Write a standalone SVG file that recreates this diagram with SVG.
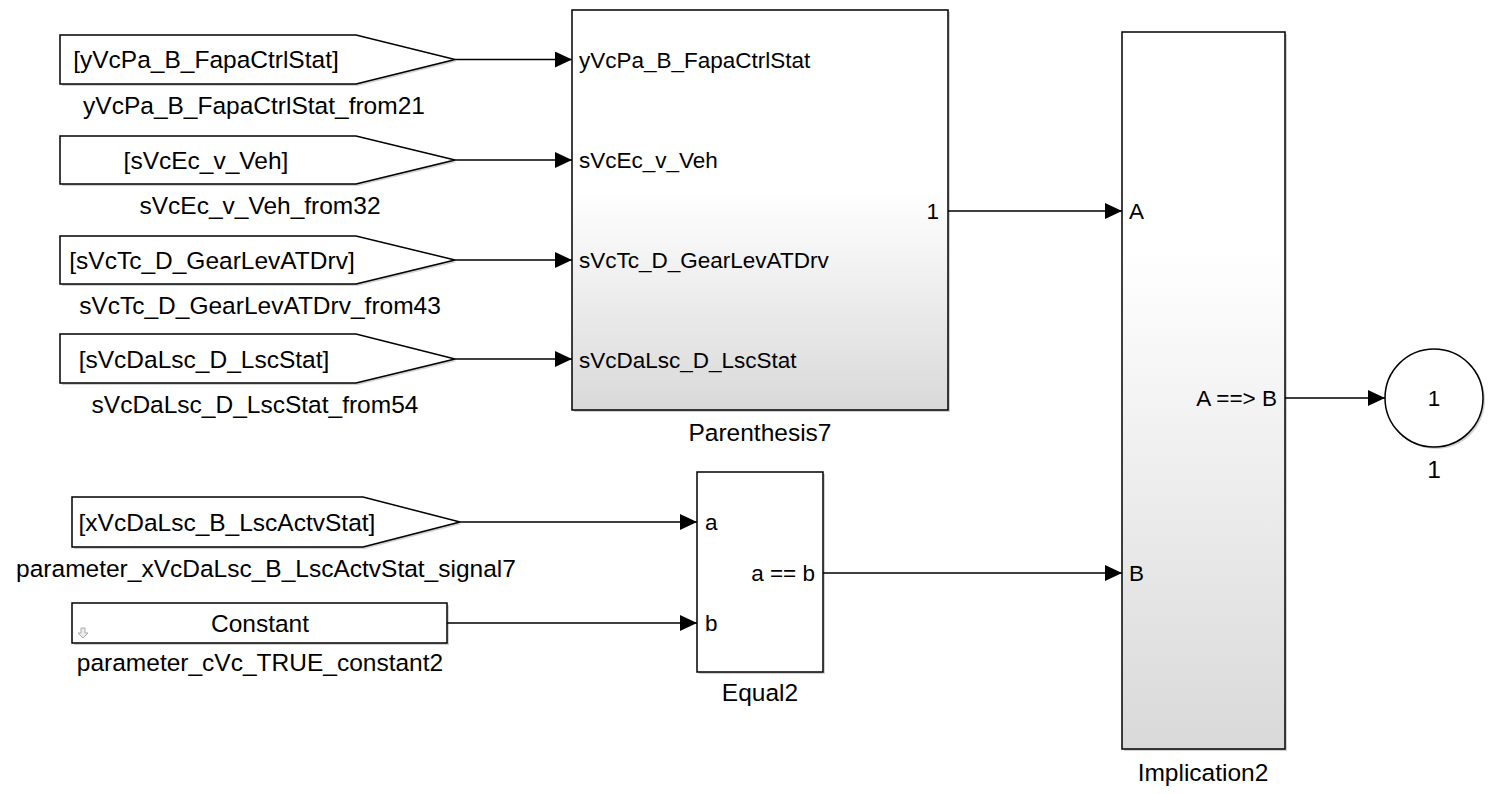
<svg xmlns="http://www.w3.org/2000/svg" width="1495" height="794" viewBox="0 0 1495 794">
<style>
text{font-family:"Liberation Sans",Arial,sans-serif;fill:#000}
.t{font-size:24.5px}
.p{font-size:22.5px}
.m{text-anchor:middle}
.e{text-anchor:end}
.b{fill:#fff;stroke:#000;stroke-width:1.5}
.sh{fill:#000;opacity:.18}
.w{stroke:#000;stroke-width:1.3;fill:none}
</style>
<defs>
<linearGradient id="g1" x1="0" y1="0" x2="0" y2="1">
<stop offset="0.45" stop-color="#ffffff"/>
<stop offset="1" stop-color="#d9d9d9"/>
</linearGradient>
<linearGradient id="g2" x1="0" y1="0" x2="0" y2="1">
<stop offset="0.3" stop-color="#ffffff"/>
<stop offset="1" stop-color="#d9d9d9"/>
</linearGradient>
<marker id="ah" markerWidth="18" markerHeight="16" refX="17" refY="8" orient="auto" markerUnits="userSpaceOnUse">
<path d="M0,0 L17,8 L0,16 Z" fill="#000"/>
</marker>
</defs>

<g id="connectors">
<path class="w" d="M455,59.5 H572" marker-end="url(#ah)"/>
<path class="w" d="M455,160 H572" marker-end="url(#ah)"/>
<path class="w" d="M455,260 H572" marker-end="url(#ah)"/>
<path class="w" d="M455,359 H572" marker-end="url(#ah)"/>
<path class="w" d="M460,522 H697" marker-end="url(#ah)"/>
<path class="w" d="M447,623 H697" marker-end="url(#ah)"/>
<path class="w" d="M948,211 H1122" marker-end="url(#ah)"/>
<path class="w" d="M823,573 H1122" marker-end="url(#ah)"/>
<path class="w" d="M1285,398 H1385" marker-end="url(#ah)"/>
</g>

<g id="from21">
<path class="sh" d="M62,37 H358 L457,61.5 L358,86 H62 Z"/>
<path class="b" d="M60,35 H356 L455,59.5 L356,84 H60 Z"/>
<text class="t m" x="206" y="68">[yVcPa_B_FapaCtrlStat]</text>
<text class="t m" x="254" y="114">yVcPa_B_FapaCtrlStat_from21</text>
</g>

<g id="from32">
<path class="sh" d="M62,138 H358 L457,162 L358,186 H62 Z"/>
<path class="b" d="M60,136 H356 L455,160 L356,184 H60 Z"/>
<text class="t m" x="206" y="168.5">[sVcEc_v_Veh]</text>
<text class="t m" x="260" y="214">sVcEc_v_Veh_from32</text>
</g>

<g id="from43">
<path class="sh" d="M62,238 H358 L457,262 L358,286 H62 Z"/>
<path class="b" d="M60,236 H356 L455,260 L356,284 H60 Z"/>
<text class="t m" x="212" y="268.5">[sVcTc_D_GearLevATDrv]</text>
<text class="t m" x="260" y="314">sVcTc_D_GearLevATDrv_from43</text>
</g>

<g id="from54">
<path class="sh" d="M62,336 H358 L457,361 L358,385 H62 Z"/>
<path class="b" d="M60,334 H356 L455,359 L356,383 H60 Z"/>
<text class="t m" x="204" y="367.5">[sVcDaLsc_D_LscStat]</text>
<text class="t m" x="255" y="413">sVcDaLsc_D_LscStat_from54</text>
</g>

<g id="signal7">
<path class="sh" d="M74,499 H365 L462,524 L365,549 H74 Z"/>
<path class="b" d="M72,497 H363 L460,522 L363,547 H72 Z"/>
<text class="t m" x="227" y="530.5">[xVcDaLsc_B_LscActvStat]</text>
<text class="t m" x="266" y="577">parameter_xVcDaLsc_B_LscActvStat_signal7</text>
</g>

<g id="constant2">
<rect class="sh" x="74" y="605" width="375" height="40"/>
<rect class="b" x="72" y="603" width="375" height="40"/>
<path d="M81,628 H85 V633 H88 L83,638 L78,633 H81 Z" fill="#eee" stroke="#aaa" stroke-width="1"/>
<text class="t m" x="260" y="631.5">Constant</text>
<text class="t m" x="260" y="671">parameter_cVc_TRUE_constant2</text>
</g>

<g id="parenthesis7">
<rect class="sh" x="574" y="12" width="376" height="400"/>
<rect x="572" y="10" width="376" height="400" fill="url(#g1)" stroke="#000" stroke-width="1.5"/>
<text class="p" x="579" y="67.5">yVcPa_B_FapaCtrlStat</text>
<text class="p" x="579" y="167.5">sVcEc_v_Veh</text>
<text class="p" x="579" y="267.5">sVcTc_D_GearLevATDrv</text>
<text class="p" x="579" y="367.5">sVcDaLsc_D_LscStat</text>
<text class="p e" x="939" y="218.5">1</text>
<text class="t m" x="760" y="441">Parenthesis7</text>
</g>

<g id="equal2">
<rect class="sh" x="699" y="474" width="126" height="200"/>
<rect class="b" x="697" y="472" width="126" height="200"/>
<text class="p" x="705" y="530">a</text>
<text class="p" x="705" y="631">b</text>
<text class="p e" x="815" y="581">a == b</text>
<text class="t m" x="760" y="701">Equal2</text>
</g>

<g id="implication2">
<rect class="sh" x="1124" y="34" width="163" height="717"/>
<rect x="1122" y="32" width="163" height="717" fill="url(#g2)" stroke="#000" stroke-width="1.5"/>
<text class="p" x="1129" y="219">A</text>
<text class="p" x="1129" y="581">B</text>
<text class="p e" x="1277" y="406">A ==&gt; B</text>
<text class="t m" x="1203" y="781">Implication2</text>
</g>

<g id="outport1">
<circle class="sh" cx="1436" cy="400" r="49"/>
<circle class="b" cx="1434" cy="398" r="49"/>
<text class="p m" x="1434" y="406">1</text>
<text class="t m" x="1434" y="478">1</text>
</g>
</svg>
